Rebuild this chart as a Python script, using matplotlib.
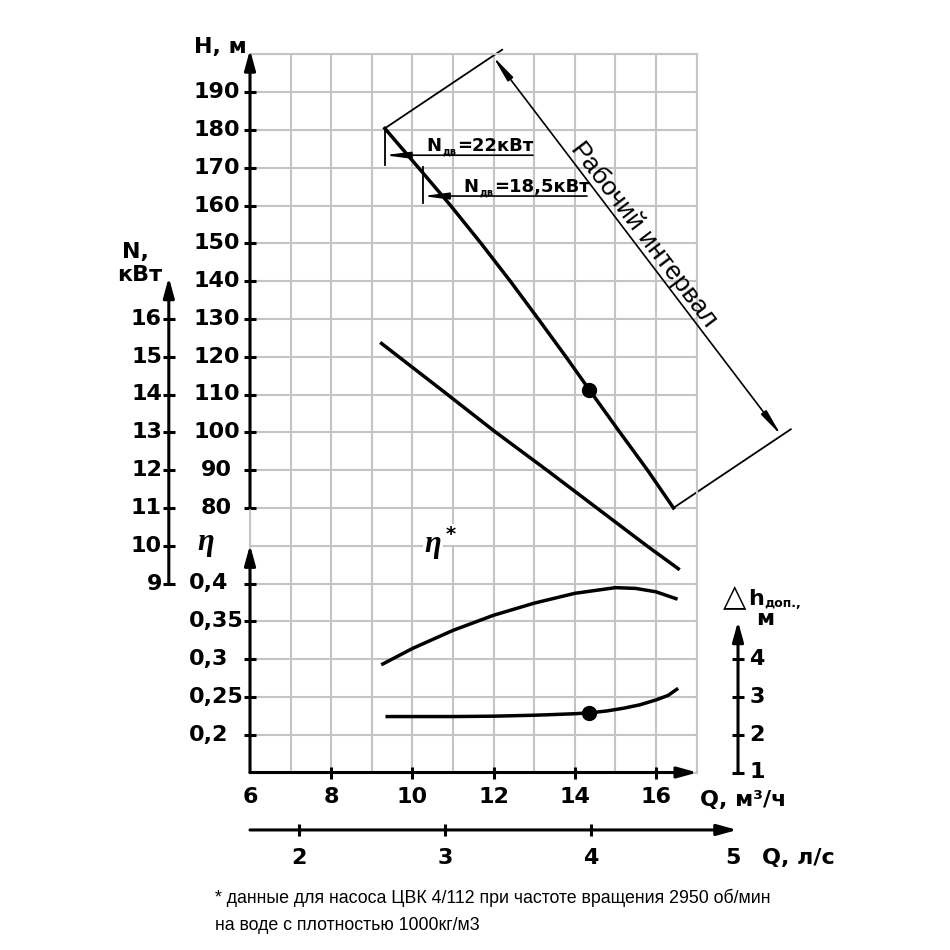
import math
import matplotlib.pyplot as plt
import numpy as np

# подача, м3/ч и напор, м
q_head = [9.32, 10.15, 10.94, 11.69, 12.41, 13.1, 13.78, 14.44, 15.11, 15.79, 16.43]
head = [180.4, 170, 160, 150, 140, 130, 120, 110, 100, 90, 80]

# мощность, кВт
q_power = [9.24, 10.72, 12.03, 13.31, 14.54, 15.77, 16.55]
power = [15.35, 14.12, 13.02, 12.0, 11.0, 10.0, 9.39]

# КПД
q_eff = [9.27, 10, 11, 12, 13, 14, 15, 15.5, 16, 16.49]
eff = [0.2935, 0.314, 0.338, 0.358, 0.374, 0.387, 0.3945, 0.3935, 0.389, 0.38]

# допустимый кавитационный запас, м
q_npsh = [9.38, 11, 12, 13, 13.4, 14.0, 14.39, 14.8, 15.2, 15.6, 16, 16.3, 16.51]
npsh = [2.48, 2.48, 2.49, 2.515, 2.53, 2.555, 2.58, 2.63, 2.7, 2.79, 2.92, 3.04, 3.2]

# рабочая точка
q_duty = 14.35
h_duty = 111.3
npsh_duty = 2.575

h_ticks = list(range(80, 200, 10))
n_ticks = list(range(9, 17))
eff_ticks = [0.2, 0.25, 0.3, 0.35, 0.4]
eff_labels = ['0,2', '0,25', '0,3', '0,35', '0,4']
npsh_ticks = [1, 2, 3, 4]
q_ticks = [6, 8, 10, 12, 14, 16]
qls_ticks = [2, 3, 4, 5]

motor_power = ['=22кВт', '=18,5кВт']
note_lines = ['* данные для насоса ЦВК 4/112 при частоте вращения 2950 об/мин',
              'на воде с плотностью 1000кг/м3']

BOLD = dict(fontsize=16, fontweight='bold', color='black')


# все шкалы сведены к одной сетке: одна клетка по вертикали = 1
def h_row(h):
    return (np.asarray(h, dtype=float) - 10) / 10


def n_row(n):
    return np.asarray(n, dtype=float) - 4


def eff_row(e):
    return (np.asarray(e, dtype=float) - 0.15) / 0.05


def npsh_row(d):
    return np.asarray(d, dtype=float) - 1


def axis_arrow(ax, x0, y0, x1, y1, lw=2.2, hl=0.8, hw=0.22, ms=15):
    ax.annotate('', xy=(x1, y1), xytext=(x0, y0),
                arrowprops=dict(arrowstyle='-|>,head_length=%s,head_width=%s' % (hl, hw),
                                mutation_scale=ms, lw=lw, color='black',
                                shrinkA=0, shrinkB=0),
                annotation_clip=False)


def ticks(ax, xs, ys, marker):
    ax.plot(xs, ys, ls='none', marker=marker, ms=9, mew=2.2, color='black', clip_on=False)


def motor_label(ax, x, y, text):
    t1 = ax.text(x, y, 'N', fontsize=13, fontweight='bold', ha='left', va='bottom')
    t2 = ax.annotate('дв', xy=(1, 0), xycoords=t1, xytext=(0.5, -1.0),
                     textcoords='offset points', fontsize=7, fontweight='bold',
                     ha='left', va='bottom')
    ax.annotate(text, xy=(1, 0), xycoords=(t2, t1), xytext=(0.3, 0),
                textcoords='offset points', fontsize=13, fontweight='bold',
                ha='left', va='bottom')


def main():
    plt.rcParams['font.family'] = 'DejaVu Sans'
    fig = plt.figure(figsize=(9.5, 9.5), dpi=100)
    ax = fig.add_axes([250 / 950, (950 - 772.5) / 950, 446.6 / 950, 718.2 / 950])
    ax.set_xlim(6, 17)
    ax.set_ylim(0, 19)
    ax.set_xticks(range(6, 18))
    ax.set_yticks(range(0, 20))
    ax.grid(color='#c4c4c4', lw=1.5)
    ax.tick_params(length=0, labelbottom=False, labelleft=False)
    for s in ax.spines.values():
        s.set_color('#c4c4c4')
        s.set_linewidth(1.5)

    # кривые
    ax.plot(q_head, h_row(head), color='black', lw=2.5, zorder=5)
    ax.plot(q_power, n_row(power), color='black', lw=2.5, zorder=5)
    ax.plot(q_eff, eff_row(eff), color='black', lw=2.5, zorder=5)
    ax.plot(q_npsh, npsh_row(npsh), color='black', lw=2.5, zorder=5)
    ax.plot([q_duty], h_row([h_duty]), 'o', color='black', ms=10, zorder=6)
    ax.plot([q_duty], npsh_row([npsh_duty]), 'o', color='black', ms=10, zorder=6)

    # ось H
    axis_arrow(ax, 6, 7, 6, 19.12)
    ticks(ax, [6] * len(h_ticks), h_row(h_ticks), '_')
    for h in h_ticks:
        ax.text(5.175, h_row(h), str(h), ha='center', va='center', **BOLD)
    ax.text(5.92, 19.19, 'H, м', ha='right', va='center', **BOLD)

    # ось N
    axis_arrow(ax, 4.0, 5, 4.0, 13.1)
    ticks(ax, [4.0] * len(n_ticks), n_row(n_ticks), '_')
    for n in n_ticks:
        ax.text(3.83, n_row(n), str(n), ha='right', va='center', **BOLD)
    ax.text(3.19, 13.77, 'N,', ha='center', va='center', **BOLD)
    ax.text(3.29, 13.16, 'кВт', ha='center', va='center', **BOLD)

    # ось КПД
    axis_arrow(ax, 6, 0, 6, 6.02)
    ticks(ax, [6] * len(eff_ticks), eff_row(eff_ticks), '_')
    for e, lab in zip(eff_ticks, eff_labels):
        ax.text(4.5, eff_row(e), lab, ha='left', va='center', **BOLD)
    ax.text(4.92, 6.09, 'η', ha='center', va='center', fontsize=22,
            family='Liberation Serif', style='italic', fontweight='bold')
    t_eta = ax.text(10.5, 6.02, 'η', ha='center', va='center', fontsize=22,
                    family='Liberation Serif', style='italic', fontweight='bold', zorder=4,
                    bbox=dict(fc='white', ec='none', pad=1))
    ax.annotate('*', xy=(1, 1), xycoords=t_eta, xytext=(3, 4), textcoords='offset points',
                ha='left', va='top', fontsize=14, fontweight='bold', zorder=4,
                bbox=dict(fc='white', ec='none', pad=1))

    # ось кавитационного запаса
    axis_arrow(ax, 18.02, 0, 18.02, 4.0)
    ticks(ax, [18.02] * len(npsh_ticks), npsh_row(npsh_ticks), '_')
    for d in npsh_ticks:
        ax.text(18.3, npsh_row(d), str(d), ha='left', va='center', **BOLD)
    ax.text(17.66, 4.43, '△', ha='left', va='baseline', fontsize=22, color='black')
    ax.text(18.27, 4.43, 'h', ha='left', va='baseline', **BOLD)
    ax.text(18.66, 4.38, 'доп.,', ha='left', va='baseline', fontsize=9,
            fontweight='bold')
    ax.text(18.68, 4.06, 'м', ha='center', va='center', **BOLD)

    # ось Q, м3/ч
    axis_arrow(ax, 6, 0, 17.02, 0)
    ticks(ax, q_ticks[1:], [0] * (len(q_ticks) - 1), '|')
    for q in q_ticks:
        ax.text(q, -0.65, str(q), ha='center', va='center', **BOLD)
    ax.text(17.08, -0.73, 'Q, м³/ч', ha='left', va='center', **BOLD)

    # ось Q, л/с
    axis_arrow(ax, 6, -1.52, 18.0, -1.52)
    ticks(ax, [3.6 * v for v in qls_ticks[:-1]], [-1.52] * (len(qls_ticks) - 1), '|')
    for v in qls_ticks:
        ax.text(3.6 * v - 0.1 * (v == 5), -2.26, str(v), ha='center', va='center', **BOLD)
    ax.text(18.6, -2.26, 'Q, л/с', ha='left', va='center', **BOLD)

    # мощность двигателя
    thin = dict(color='black', lw=1.3, clip_on=False)
    r0 = float(h_row(head[0]))
    ax.plot([q_head[0], q_head[0]], [r0, 16.07], **thin)
    axis_arrow(ax, 12.97, 16.33, q_head[0], 16.33, lw=1.2, hl=1.5, hw=0.2, ms=10)
    motor_label(ax, 10.35, 16.33, motor_power[0])
    ax.plot([10.26, 10.26], [16.02, 15.07], **thin)
    axis_arrow(ax, 14.3, 15.25, 10.26, 15.25, lw=1.2, hl=1.5, hw=0.2, ms=10)
    motor_label(ax, 11.26, 15.25, motor_power[1])

    # рабочий интервал
    ext = np.array([2.89, 2.08])
    p_top = np.array([q_head[0], r0])
    p_bot = np.array([q_head[-1], float(h_row(head[-1]))])
    ax.plot(*zip(p_top, p_top + ext), **thin)
    ax.plot(*zip(p_bot, p_bot + ext), **thin)
    a0 = p_top + 0.92 * ext
    a1 = p_bot + 0.92 * ext
    ax.annotate('', xy=a1, xytext=a0,
                arrowprops=dict(arrowstyle='<|-|>,head_length=1.6,head_width=0.2',
                                mutation_scale=10, lw=1.2, color='black',
                                shrinkA=0, shrinkB=0),
                annotation_clip=False)
    d0 = ax.transData.transform(a0)
    d1 = ax.transData.transform(a1)
    ang = math.degrees(math.atan2(d1[1] - d0[1], d1[0] - d0[0]))
    mid = a0 + 0.49 * (a1 - a0)
    nx, ny = -math.sin(math.radians(ang)), math.cos(math.radians(ang))
    ax.annotate('Рабочий интервал', xy=mid, xytext=(9.2 * nx, 9.2 * ny),
                textcoords='offset points', rotation=ang, rotation_mode='anchor',
                ha='center', va='center', fontsize=19, family='Liberation Sans',
                annotation_clip=False)

    # примечание
    fig.text(215 / 950, 1 - 898 / 950, note_lines[0], fontsize=12.8,
             family='Liberation Sans', va='center')
    fig.text(215 / 950, 1 - 925 / 950, note_lines[1], fontsize=12.8,
             family='Liberation Sans', va='center')

    fig.savefig('out.png', dpi=100)


if __name__ == '__main__':
    main()
